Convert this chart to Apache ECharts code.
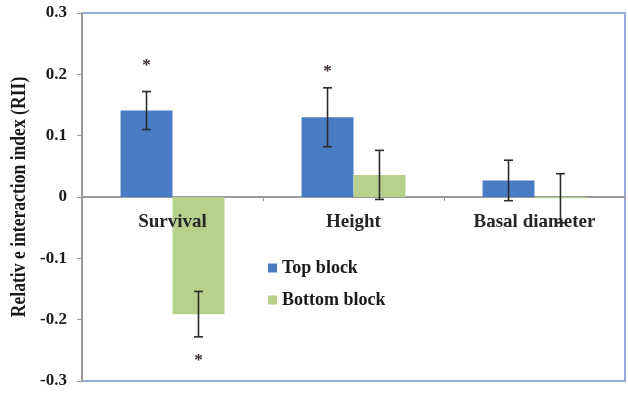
<!DOCTYPE html>
<html>
<head>
<meta charset="utf-8">
<script src="https://cdn.jsdelivr.net/npm/echarts@6/dist/echarts.min.js"></script>
<style>
  html, body { margin: 0; padding: 0; background: #fff; }
  #chart { width: 628px; height: 393px; }
</style>
</head>
<body>
<div id="chart"></div>
<script>
// Relative interaction index by response variable and block position
const categories = ['Survival', 'Height', 'Basal diameter'];
const seriesNames = ['Top block', 'Bottom block'];
const topBlock = [0.141, 0.130, 0.027];
const topBlockErr = [0.031, 0.048, 0.033];
const bottomBlock = [-0.191, 0.036, -0.002];
const bottomBlockErr = [0.037, 0.040, 0.040];
// significance markers: [category index, series index, value position]
const stars = [[0, 0, 0.222], [1, 0, 0.212], [0, 1, -0.259]];
const yTicks = { min: -0.3, max: 0.3, interval: 0.1 };
const yTitle = 'Relativ e interaction index (RII)';

const colors = ['#4a7cc4', '#b5d18c'];
const serifBold = { fontFamily: '"Liberation Serif", "Times New Roman", serif', fontWeight: 'bold' };

const chart = echarts.init(document.getElementById('chart'));

// each bar fills barWidthPct of a category band
const barWidthPct = 0.287;

function bandOffset(api, seriesIdx) {
  const band = api.size([1, 0])[0];
  const w = band * barWidthPct;
  return seriesIdx === 0 ? -w / 2 : w / 2;
}

function errorSeries(values, errs, seriesIdx) {
  return {
    type: 'custom',
    z: 3,
    silent: true,
    data: values.map((v, i) => [i, v, errs[i]]),
    renderItem(params, api) {
      const i = api.value(0), v = api.value(1), e = api.value(2);
      const dx = bandOffset(api, seriesIdx);
      const hi = api.coord([i, v + e]);
      const lo = api.coord([i, v - e]);
      const x = hi[0] + dx;
      const cap = 4.5;
      const style = { stroke: '#2b2b2b', lineWidth: 1.6 };
      return {
        type: 'group',
        children: [
          { type: 'line', shape: { x1: x, y1: hi[1], x2: x, y2: lo[1] }, style },
          { type: 'line', shape: { x1: x - cap, y1: hi[1], x2: x + cap, y2: hi[1] }, style },
          { type: 'line', shape: { x1: x - cap, y1: lo[1], x2: x + cap, y2: lo[1] }, style }
        ]
      };
    }
  };
}

chart.setOption({
  animation: false,
  grid: {
    left: 82, right: 3, top: 13, bottom: 12,
    outerBoundsMode: 'none', containLabel: false,
    show: true, borderColor: '#93acdb', borderWidth: 2, backgroundColor: 'transparent'
  },
  // condensed, rotated y-axis title
  graphic: [{
    type: 'text',
    x: 20, y: 197,
    rotation: Math.PI / 2,
    scaleX: 0.88,
    style: Object.assign({
      text: yTitle, fontSize: 20, fill: '#1a1a1a',
      align: 'center', verticalAlign: 'middle'
    }, serifBold)
  }],
  legend: {
    orient: 'vertical',
    left: 263, top: 254,
    itemWidth: 9, itemHeight: 9, itemGap: 14,
    icon: 'rect',
    data: seriesNames,
    textStyle: Object.assign({ fontSize: 18, color: '#1a1a1a' }, serifBold)
  },
  xAxis: {
    type: 'category',
    data: categories,
    axisLine: { onZero: true, lineStyle: { color: '#9a9a9a', width: 2 } },
    axisTick: { show: true, length: 4, inside: false, lineStyle: { color: '#9a9a9a' } },
    axisLabel: { show: false },
    z: 1
  },
  yAxis: {
    type: 'value',
    min: yTicks.min, max: yTicks.max, interval: yTicks.interval,
    axisLine: { show: true, lineStyle: { color: '#9a9a9a', width: 2 } },
    axisTick: { show: true, length: 5, lineStyle: { color: '#9a9a9a' } },
    splitLine: { show: false },
    axisLabel: Object.assign({
      fontSize: 17, color: '#1a1a1a', margin: 15,
      formatter: v => (Math.round(v * 10) / 10).toString()
    }, serifBold)
  },
  series: [
    {
      name: seriesNames[0], type: 'bar', data: topBlock,
      barWidth: (barWidthPct * 100) + '%', barGap: '0%',
      itemStyle: { color: colors[0] }, z: 2
    },
    {
      name: seriesNames[1], type: 'bar', data: bottomBlock,
      barWidth: (barWidthPct * 100) + '%', barGap: '0%',
      itemStyle: { color: colors[1] }, z: 2
    },
    errorSeries(topBlock, topBlockErr, 0),
    errorSeries(bottomBlock, bottomBlockErr, 1),
    {
      // category names sit just under the zero line
      type: 'custom',
      z: 5,
      silent: true,
      data: categories.map((c, i) => [i, 0]),
      renderItem(params, api) {
        const p = api.coord([api.value(0), api.value(1)]);
        return {
          type: 'text',
          x: p[0],
          y: p[1] + 25,
          style: Object.assign({
            text: categories[params.dataIndex], fontSize: 19, fill: '#262626',
            align: 'center', verticalAlign: 'middle'
          }, serifBold)
        };
      }
    },
    {
      type: 'custom',
      z: 4,
      silent: true,
      data: stars,
      renderItem(params, api) {
        const i = api.value(0), s = api.value(1), v = api.value(2);
        const p = api.coord([i, v]);
        return {
          type: 'text',
          x: p[0] + bandOffset(api, s),
          y: p[1] + 5,
          style: Object.assign({
            text: '*', fontSize: 17, fill: '#3a2a2a',
            align: 'center', verticalAlign: 'middle'
          }, serifBold)
        };
      }
    }
  ]
});
</script>
</body>
</html>
